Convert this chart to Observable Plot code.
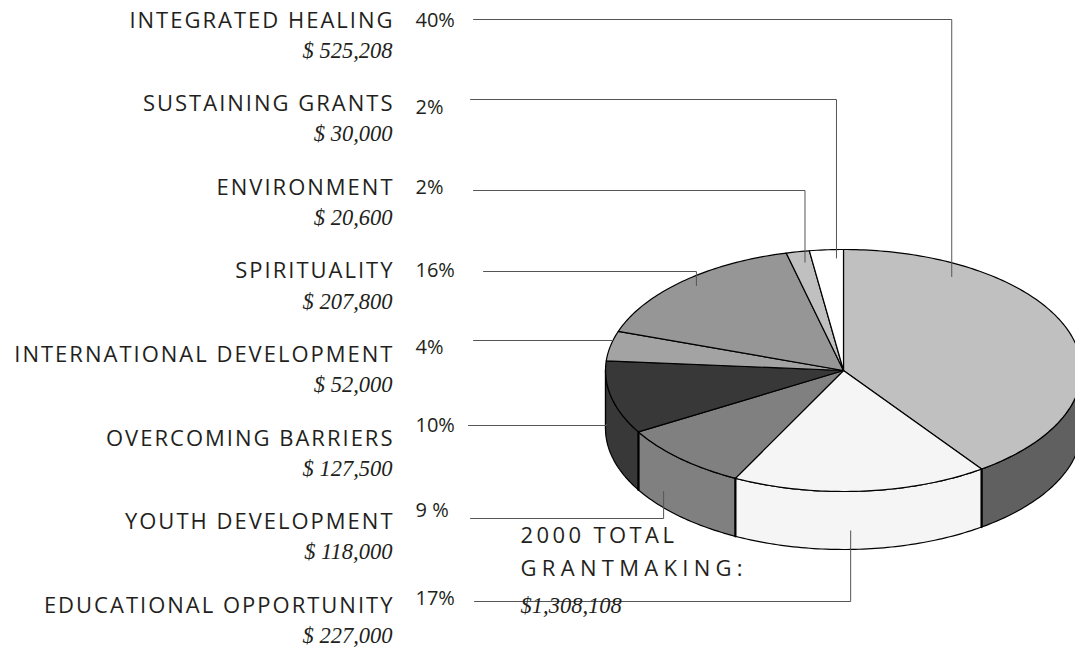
<!DOCTYPE html>
<html>
<head>
<meta charset="utf-8">
<script src="https://cdn.jsdelivr.net/npm/d3@7"></script>
<script src="https://cdn.jsdelivr.net/npm/@observablehq/plot@0.6"></script>
<style>
  body { margin: 0; background: #fff; }
  #chart svg { display: block; }
</style>
</head>
<body>
<div id="chart"></div>
<script>
// ---------- DATA (listed top to bottom as in the legend column) ----------
const categories = [
  "INTEGRATED HEALING",
  "SUSTAINING GRANTS",
  "ENVIRONMENT",
  "SPIRITUALITY",
  "INTERNATIONAL DEVELOPMENT",
  "OVERCOMING BARRIERS",
  "YOUTH DEVELOPMENT",
  "EDUCATIONAL OPPORTUNITY"
];
const amounts = [525208, 30000, 20600, 207800, 52000, 127500, 118000, 227000];
const percentLabels = ["40%", "2%", "2%", "16%", "4%", "10%", "9 %", "17%"];
// clockwise order of slices starting at 12 o'clock (indices into categories)
const pieOrder = [0, 7, 6, 5, 4, 3, 2, 1];
const totalLines = ["2000 TOTAL", "GRANTMAKING:"];
const totalAmount = "$1,308,108";

// ---------- STYLE / LAYOUT ----------
const W = 1075, H = 647;
const cx = 843, cy = 370, rx = 238, ry = 121, depth = 58;
const topFill  = ["#c0c0c0", "#ffffff", "#c0c0c0", "#969696", "#a3a3a3", "#383838", "#808080", "#f5f5f5"];
const sideFill = ["#606060", "#ffffff", "#c0c0c0", "#969696", "#a3a3a3", "#383838", "#808080", "#f5f5f5"];
const rowY = i => 20 + i * 83.6;
const pctY = [20, 107, 187, 270, 347, 425, 510, 598];
const leaderY = [19, 99, 190, 271, 340, 425, 518, 601];
const leaderX0 = [473, 470, 473, 483, 473, 468, 470, 474];
// anchor of each leader: fraction along slice angle, radius fraction, depth fraction
const anchorT = [0.21, 0.78, 0.65, 0.52, 0.68, 0.73, 0.68, 0.54];
const anchorR = [0.90, 0.93, 0.91, 0.935, 1.0, 1.0, 1.0, 1.0];
const anchorH = [0, 0, 0, 0, 0, 0.75, 0.72, 0.68];
const textColor = "#231f20";
const sans = "'Open Sans', 'Noto Sans', sans-serif";
const serif = "'Liberation Serif', 'DejaVu Serif', serif";
const catSpacing = 2;

// ---------- GEOMETRY ----------
const P = (a, r = 1, h = 0) => ({x: cx + rx * r * Math.sin(a), y: cy - ry * r * Math.cos(a) + h * depth});
const arcs = d3.pie().sort(null).value(i => amounts[i])(pieOrder);
const sliceOf = {};
arcs.forEach(a => sliceOf[a.data] = a);

function arcPts(a0, a1, r = 1, h = 0) {
  const n = Math.max(2, Math.ceil((a1 - a0) / (Math.PI / 180)));
  return d3.range(n + 1).map(k => P(a0 + (a1 - a0) * k / n, r, h));
}

const marks = [];
// side walls (front half only)
arcs.forEach(a => {
  const s0 = Math.max(a.startAngle, Math.PI / 2), s1 = Math.min(a.endAngle, 3 * Math.PI / 2);
  if (s0 < s1) {
    const pts = arcPts(s0, s1, 1, 0).concat(arcPts(s0, s1, 1, 1).reverse());
    marks.push(Plot.line(pts, {x: "x", y: "y", fill: sideFill[a.data], stroke: "#000", strokeWidth: 1.2, curve: "linear-closed"}));
  }
});
// top faces
arcs.forEach(a => {
  const pts = [P(0, 0)].concat(arcPts(a.startAngle, a.endAngle));
  marks.push(Plot.line(pts, {x: "x", y: "y", fill: topFill[a.data], stroke: "#000", strokeWidth: 1.2, curve: "linear-closed", strokeLinejoin: "round"}));
});
// thick vertical edges at front slice boundaries
const edges = arcs.map(a => a.startAngle).filter(t => t > Math.PI / 2 && t < 3 * Math.PI / 2);
edges.forEach(t => {
  marks.push(Plot.line([P(t, 1, 0), P(t, 1, 1)], {x: "x", y: "y", stroke: "#000", strokeWidth: 2.2}));
});
// left silhouette edge
marks.push(Plot.line([P(3 * Math.PI / 2, 1, 0), P(3 * Math.PI / 2, 1, 1)], {x: "x", y: "y", stroke: "#000", strokeWidth: 1.2}));

// leader lines
const leaders = [];
categories.forEach((c, i) => {
  const a = sliceOf[i];
  const t = a.startAngle + (a.endAngle - a.startAngle) * anchorT[i];
  const p = P(t, anchorR[i], anchorH[i]);
  leaders.push({c, x: leaderX0[i], y: leaderY[i]}, {c, x: p.x, y: leaderY[i]}, {c, x: p.x, y: p.y});
});
marks.push(Plot.line(leaders, {x: "x", y: "y", z: "c", stroke: "#555", strokeWidth: 1}));

// labels
marks.push(Plot.text(categories, {
  x: () => 392 + catSpacing, y: (d, i) => rowY(i), text: d => d, textAnchor: "end",
  fontFamily: sans, fontSize: 22, fill: textColor
}));
marks.push(Plot.text(amounts, {
  x: () => 392, y: (d, i) => rowY(i) + 30, text: d => "$ " + d3.format(",")(d), textAnchor: "end",
  fontFamily: serif, fontStyle: "italic", fontSize: 22.5, fill: textColor
}));
marks.push(Plot.text(percentLabels, {
  x: () => 415, y: (d, i) => pctY[i], text: d => d, textAnchor: "start",
  fontFamily: sans, fontSize: 20, fill: textColor
}));
marks.push(Plot.text(totalLines, {
  x: () => 520, y: (d, i) => 535 + i * 33, text: d => d, textAnchor: "start",
  fontFamily: sans, fontSize: 22, fill: textColor
}));
marks.push(Plot.text([totalAmount], {
  x: () => 520, y: () => 605, text: d => d, textAnchor: "start",
  fontFamily: serif, fontStyle: "italic", fontSize: 22.5, fill: textColor
}));

const chart = Plot.plot({
  width: W, height: H, margin: 0,
  x: {domain: [0, W], range: [0, W], axis: null},
  y: {domain: [0, H], range: [0, H], axis: null},
  style: {background: "#fff"},
  marks
});
// letter spacing (Plot has no option for it): applied by text content
const spacing = new Map(categories.map(c => [c, catSpacing]));
spacing.set(totalLines[0], 3.4);
spacing.set(totalLines[1], 5.3);
d3.select(chart).selectAll("text").each(function () {
  const s = spacing.get(this.textContent);
  if (s != null) { this.setAttribute("letter-spacing", s); this.style.letterSpacing = s + "px"; }
});
document.getElementById("chart").appendChild(chart);
</script>
</body>
</html>
